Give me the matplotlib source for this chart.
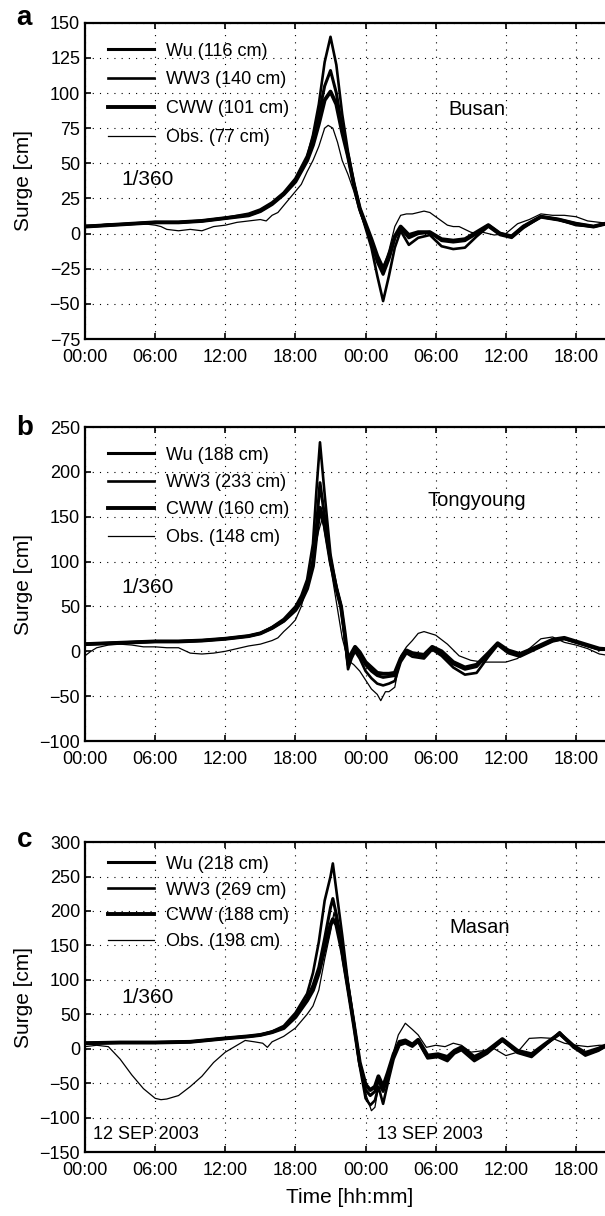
import matplotlib
matplotlib.use("Agg")
import matplotlib.pyplot as plt
from matplotlib.ticker import FixedLocator

plt.rcParams['font.family'] = ['Liberation Sans', 'DejaVu Sans']

# time axis: hours since 12 SEP 2003 00:00
tick_hours = [0, 6, 12, 18, 24, 30, 36, 42]
tick_labels = ["00:00", "06:00", "12:00", "18:00", "00:00", "06:00", "12:00", "18:00"]

##########################
# a) Busan               #
##########################
t_a = [0, 2, 4, 6, 8, 10, 12, 14, 15, 16, 17, 18, 19, 19.5, 20, 20.5, 21, 21.5, 22, 22.5,
       23, 23.5, 24, 24.5, 25, 25.5, 26, 26.5, 27, 27.7, 28.5, 29.5, 30.5, 31.5, 32.5, 33.5,
       34.5, 35.5, 36.5, 37.5, 39, 40.5, 42, 43.5, 45, 46.5, 48]
wu_a = [5, 6, 7, 8, 8, 9, 11, 14, 17, 22, 29, 39, 55, 68, 85, 105, 116, 100, 75, 55,
        35, 18, 6, -6, -20, -29, -18, -3, 4, -3, 0, 1, -5, -6, -5, 0,
        6, 0, -2, 5, 12, 10, 7, 5, 8, 8, 7]
ww3_a = [5, 6, 7, 8, 8, 9, 11, 13, 16, 21, 28, 38, 54, 70, 92, 122, 140, 120, 85, 58,
         36, 18, 4, -10, -30, -48, -30, -10, 2, -8, -3, -1, -9, -11, -10, -2,
         5, -1, -3, 4, 12, 10, 6, 5, 8, 8, 7]
cww_a = [5, 6, 7, 8, 8, 9, 11, 13, 16, 21, 28, 37, 52, 63, 78, 95, 101, 92, 72, 55,
         35, 18, 7, -4, -16, -25, -16, -2, 5, -1, 1, 1, -4, -5, -4, 1,
         6, 0, -2, 5, 12, 10, 7, 5, 8, 8, 7]
t_obs_a = [0, 1, 2, 3, 4, 5, 6, 6.5, 7, 8, 9, 10, 11, 12, 13, 14, 15, 15.5, 16, 16.5,
           17, 17.5, 18, 18.5, 19, 19.5, 20, 20.5, 20.8, 21.2, 21.6, 22, 22.5, 23, 23.5, 24,
           24.5, 25, 25.5, 26, 26.5, 27, 27.5, 28, 28.5, 29, 29.5, 30, 30.5, 31, 31.5, 32,
           33, 33.5, 34, 35, 36, 37, 38, 39, 40, 41, 42, 43, 44, 45, 46, 48]
obs_a = [6, 6, 7, 7, 7, 7, 6, 5, 3, 2, 3, 2, 5, 6, 8, 9, 10, 9, 13, 15,
         20, 25, 30, 35, 44, 52, 62, 75, 77, 75, 65, 52, 42, 30, 15, 4,
         -6, -18, -24, -12, 5, 13, 14, 14, 15, 16, 15, 12, 9, 6, 5, 5,
         1, 0, 1, -1, 0, 7, 10, 14, 13, 13, 12, 9, 8, 7, 8, 8]

##########################
# b) Tongyoung           #
##########################
t_b = [0, 2, 4, 6, 8, 10, 12, 14, 15, 16, 17, 18, 18.5, 19, 19.5, 19.8, 20.1, 20.5, 21, 21.5,
       21.9, 22.2, 22.5, 22.8, 23.1, 23.5, 24, 24.5, 25, 25.5, 26, 26.5, 27, 27.5, 28, 29,
       29.7, 30.5, 31.5, 32.5, 33.5, 34.5, 35.3, 36.2, 37.2, 38.5, 40, 41, 42, 43, 44, 45, 46, 48]
wu_b = [8, 9, 10, 11, 11, 12, 14, 17, 20, 26, 34, 47, 57, 72, 100, 140, 188, 150, 100, 70,
        50, 20, -15, -5, 3, -3, -15, -22, -27, -29, -28, -27, -10, 0, -3, -6,
        4, -2, -14, -20, -17, -3, 8, 0, -4, 3, 12, 14, 10, 6, 2, 2, 4, 4]
ww3_b = [8, 9, 10, 11, 11, 12, 14, 17, 20, 27, 36, 50, 62, 80, 120, 180, 233, 175, 108, 72,
         50, 18, -20, -8, 0, -8, -22, -30, -36, -38, -36, -33, -12, -2, -6, -8,
         2, -5, -18, -26, -24, -6, 7, -2, -6, 2, 11, 14, 10, 6, 2, 2, 4, 4]
cww_b = [8, 9, 10, 11, 11, 12, 14, 17, 20, 26, 34, 46, 56, 70, 95, 130, 160, 140, 100, 70,
         50, 22, -10, -2, 5, -1, -12, -18, -24, -25, -25, -24, -8, 1, -2, -4,
         5, 0, -12, -18, -15, -2, 9, 1, -3, 4, 13, 15, 11, 7, 3, 2, 4, 4]
t_obs_b = [0, 0.5, 1, 2, 3, 4, 5, 6, 7, 8, 9, 10, 11, 12, 13, 14, 15, 16, 16.5, 17,
           17.5, 18, 18.5, 19, 19.5, 20, 20.3, 20.6, 21, 21.5, 22, 22.5, 23, 23.5, 24, 24.5,
           25, 25.3, 25.7, 26, 26.5, 27, 27.5, 28, 28.5, 29, 30, 31, 32, 33, 34, 35,
           36, 37, 38, 39, 40, 41, 42, 43, 44, 45, 46, 48]
obs_b = [-5, 0, 4, 7, 8, 7, 5, 5, 4, 4, -2, -3, -2, 0, 3, 6, 8, 12, 15, 22,
         28, 35, 50, 75, 105, 135, 148, 125, 95, 55, 15, -10, -15, -22, -32, -42,
         -48, -55, -45, -45, -40, -5, 5, 12, 20, 22, 18, 8, -5, -10, -12, -12,
         -12, -8, 3, 14, 16, 10, 7, 3, -3, -5, -3, 0]

##########################
# c) Masan               #
##########################
t_c = [0, 3, 6, 9, 12, 14, 15, 16, 17, 18, 19, 19.5, 20, 20.5, 21, 21.2, 21.5, 22, 22.5, 23,
       23.5, 24, 24.4, 24.8, 25.1, 25.5, 25.9, 26.4, 26.9, 27.4, 28, 28.5, 29.3, 30.2, 31, 31.6,
       32.2, 33.3, 34.4, 35.7, 37, 38.2, 39.3, 40.6, 41.8, 42.8, 43.9, 45, 46, 48]
wu_c = [8, 9, 9, 10, 15, 18, 20, 24, 31, 48, 73, 92, 118, 160, 205, 218, 195, 150, 90, 35,
        -22, -60, -68, -62, -45, -62, -40, -10, 8, 10, 5, 12, -12, -10, -15, -5,
        0, -15, -5, 12, -5, -10, 5, 22, 2, -8, -2, 8, 10, 8]
ww3_c = [8, 9, 9, 10, 15, 18, 20, 25, 33, 52, 80, 110, 155, 215, 250, 269, 230, 165, 95, 38,
         -25, -72, -82, -75, -55, -80, -50, -15, 5, 8, 3, 10, -14, -12, -18, -7,
         -2, -18, -7, 12, -6, -12, 4, 24, 2, -10, -3, 8, 10, 8]
cww_c = [8, 9, 9, 10, 15, 18, 20, 24, 30, 46, 70, 85, 110, 145, 180, 188, 180, 140, 88, 35,
         -20, -52, -60, -55, -40, -55, -35, -8, 10, 12, 6, 13, -10, -8, -12, -3,
         2, -12, -3, 14, -3, -8, 6, 22, 4, -6, 0, 8, 10, 8]
t_obs_c = [0, 1, 2, 3, 4, 5, 6, 6.5, 7, 8, 9, 10, 11, 12, 13, 13.7, 14.5, 15.2, 15.6, 16,
           17, 18, 19, 19.5, 20, 20.5, 21, 21.3, 21.6, 22, 22.5, 23, 23.5, 24, 24.5, 24.8,
           25.1, 25.4, 25.8, 26.3, 26.8, 27.4, 28, 28.5, 29.2, 30, 30.8, 31.5, 32.2, 33,
           34, 35, 36, 37, 38, 39, 40, 41, 42, 43, 44, 45, 46, 48]
obs_c = [3, 5, 3, -15, -38, -58, -72, -74, -73, -68, -55, -40, -20, -5, 5, 12, 10, 8, 2, 10,
         18, 30, 50, 62, 85, 130, 170, 198, 175, 130, 80, 30, -20, -65, -90, -85,
         -55, -60, -45, -10, 20, 37, 28, 20, 2, 5, 3, 8, 5, -5,
         -3, 0, -10, -5, 15, 16, 15, 8, 5, 3, 5, 5, 6, 6]

panels = [
    dict(letter="a", station="Busan", t=t_a, wu=wu_a, ww3=ww3_a, cww=cww_a,
         t_obs=t_obs_a, obs=obs_a, peaks=[116, 140, 101, 77],
         ylim=(-75, 150), yticks=range(-75, 151, 25),
         pos=[0.1405, 0.7212, 0.8734, 0.2601], leg_y=0.937, leg_sp=0.65,
         st_xy=(0.742, 0.727), ratio_y=0.503, let_y=0.992),
    dict(letter="b", station="Tongyoung", t=t_b, wu=wu_b, ww3=ww3_b, cww=cww_b,
         t_obs=t_obs_b, obs=obs_b, peaks=[188, 233, 160, 148],
         ylim=(-100, 250), yticks=range(-100, 251, 50),
         pos=[0.1405, 0.3906, 0.8734, 0.2582], leg_y=0.938, leg_sp=0.58,
         st_xy=(0.742, 0.767), ratio_y=0.49, let_y=0.975),
    dict(letter="c", station="Masan", t=t_c, wu=wu_c, ww3=ww3_c, cww=cww_c,
         t_obs=t_obs_c, obs=obs_c, peaks=[218, 269, 188, 198],
         ylim=(-150, 300), yticks=range(-150, 301, 50),
         pos=[0.1405, 0.0526, 0.8734, 0.2549], leg_y=0.956, leg_sp=0.49,
         st_xy=(0.746, 0.723), ratio_y=0.497, let_y=0.984),
]

fig = plt.figure(figsize=(6.05, 12.16), dpi=100)

for p in panels:
    ax = fig.add_axes(p["pos"])
    h1, = ax.plot(p["t"], p["wu"], color="black", lw=2.2, label=f"Wu ({p['peaks'][0]} cm)")
    h2, = ax.plot(p["t"], p["ww3"], color="black", lw=1.9, label=f"WW3 ({p['peaks'][1]} cm)")
    h3, = ax.plot(p["t"], p["cww"], color="black", lw=2.8, label=f"CWW ({p['peaks'][2]} cm)")
    h4, = ax.plot(p["t_obs"], p["obs"], color="black", lw=0.9, label=f"Obs. ({p['peaks'][3]} cm)")

    ax.set_xlim(0, 45.2)
    ax.set_ylim(*p["ylim"])
    ax.xaxis.set_major_locator(FixedLocator(tick_hours))
    ax.set_xticklabels(tick_labels)
    ax.set_yticks(list(p["yticks"]))
    ax.set_yticklabels([f"{v}".replace("-", "\u2212") for v in p["yticks"]])
    ax.tick_params(direction="in", length=4, width=1.2, labelsize=13,
                   top=True, right=True, color="black")
    ax.tick_params(axis="x", pad=7)
    ax.grid(True, color="black", linestyle=(0, (1, 5.5)), linewidth=0.8)
    for s in ax.spines.values():
        s.set_linewidth(1.6)

    ax.set_ylabel("Surge [cm]", fontsize=15)
    ax.yaxis.set_label_coords(-0.098, 0.5)

    ax.legend(handles=[h1, h2, h3, h4], loc="upper left", bbox_to_anchor=(0.044, p["leg_y"]),
              frameon=False, borderpad=0, borderaxespad=0, handlelength=2.55,
              handletextpad=0.65, labelspacing=p["leg_sp"], fontsize=13)

    ax.text(p["st_xy"][0], p["st_xy"][1], p["station"], transform=ax.transAxes,
            fontsize=14.5, ha="center", va="center")
    ax.text(0.119, p["ratio_y"], "1/360", transform=ax.transAxes,
            fontsize=15, ha="center", va="center")
    ax.text(-0.115, p["let_y"], p["letter"], transform=ax.transAxes,
            fontsize=20, fontweight="bold", ha="center", va="baseline")

    if p["letter"] == "c":
        ax.text(0.015, 0.055, "12 SEP 2003", transform=ax.transAxes,
                fontsize=13, ha="left", va="center")
        ax.text(0.553, 0.055, "13 SEP 2003", transform=ax.transAxes,
                fontsize=13, ha="left", va="center")
        ax.set_xlabel("Time [hh:mm]", fontsize=15)
        ax.xaxis.set_label_coords(0.5, -0.115)

fig.savefig("out.png", dpi=100)
